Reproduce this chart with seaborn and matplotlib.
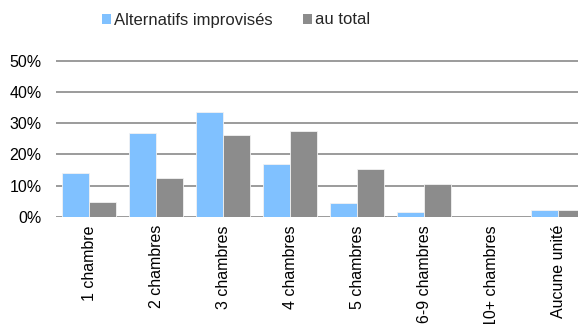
import matplotlib
matplotlib.use("Agg")
import matplotlib.pyplot as plt
import seaborn as sns
import pandas as pd
from matplotlib.patches import Patch
from matplotlib.ticker import FuncFormatter

categories = ["1 chambre", "2 chambres", "3 chambres", "4 chambres",
              "5 chambres", "6-9 chambres", "10+ chambres", "Aucune unité"]
alternatifs = [13.9, 26.9, 33.7, 16.8, 4.3, 1.6, 0.0, 2.0]
total = [4.8, 12.3, 26.3, 27.4, 15.4, 10.4, 0.0, 2.2]
series_names = ["Alternatifs improvisés", "au total"]
colors = ["#80C1FF", "#8C8C8C"]

df = pd.DataFrame({
    "cat": categories * 2,
    "val": alternatifs + total,
    "serie": [series_names[0]] * len(categories) + [series_names[1]] * len(categories),
})

sns.set_theme(style="white")
plt.rcParams["font.family"] = ["Liberation Sans", "DejaVu Sans"]

W, H = 578, 324
fig = plt.figure(figsize=(W / 100, H / 100), dpi=100)
left_px, slot_px = 55.6, 67.0
zero_px, top_px = 216.7, 61.0
ymax = 50.5
h_px = (zero_px - top_px) * ymax / 50
ax = fig.add_axes([left_px / W, (H - zero_px) / H, slot_px * 8 / W, h_px / H])

sns.barplot(data=df, x="cat", y="val", hue="serie", palette=colors, saturation=1,
            width=0.8, gap=0, edgecolor="#f2f2f2", linewidth=0.6,
            ax=ax, legend=False, zorder=3)

ax.set_xlim(-0.5, 7.5)
ax.set_ylim(0, ymax)
ax.set_yticks([0, 10, 20, 30, 40, 50])
ax.yaxis.set_major_formatter(FuncFormatter(lambda v, p: f"{v:.0f}%"))
ax.grid(axis="y", color="#8a8a8a", linewidth=1.2, zorder=0)
ax.grid(axis="x", visible=False)
for s in ax.spines.values():
    s.set_visible(False)
ax.set_xlabel("")
ax.set_ylabel("")
ax.tick_params(axis="y", length=0, labelsize=11.5, colors="black", pad=10)
ax.tick_params(axis="x", length=0, labelsize=11.5, colors="black", pad=6)
plt.setp(ax.get_xticklabels(), rotation=90, va="top", ha="center")

handles = [Patch(facecolor=c, edgecolor="none") for c in colors]
fig.legend(handles, series_names, loc="center", bbox_to_anchor=(236 / W, 1 - 20 / H),
           ncol=2, frameon=False, fontsize=12, handlelength=0.55, handleheight=0.55,
           handletextpad=0.2, columnspacing=1.8)

fig.savefig("out.png", dpi=100)
